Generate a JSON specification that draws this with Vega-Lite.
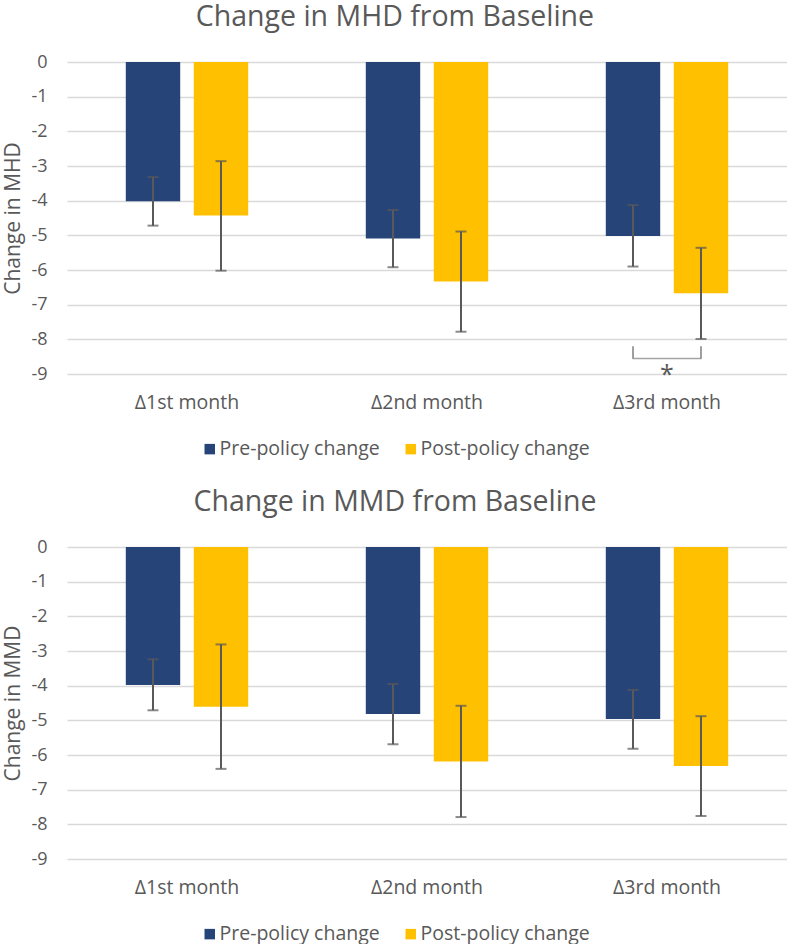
{
  "$schema": "https://vega.github.io/schema/vega-lite/v6.json",
  "padding": {"left": 2, "right": 0, "top": 3, "bottom": 0},
  "background": "white",
  "datasets": {
    "mhd": [
      {"month": "Δ1st month", "group": "Pre-policy change", "value": -4.02, "lo": -4.72, "hi": -3.32},
      {"month": "Δ1st month", "group": "Post-policy change", "value": -4.43, "lo": -6.02, "hi": -2.86},
      {"month": "Δ2nd month", "group": "Pre-policy change", "value": -5.09, "lo": -5.92, "hi": -4.27},
      {"month": "Δ2nd month", "group": "Post-policy change", "value": -6.33, "lo": -7.78, "hi": -4.89},
      {"month": "Δ3rd month", "group": "Pre-policy change", "value": -5.02, "lo": -5.9, "hi": -4.13},
      {"month": "Δ3rd month", "group": "Post-policy change", "value": -6.67, "lo": -7.99, "hi": -5.36}
    ],
    "mmd": [
      {"month": "Δ1st month", "group": "Pre-policy change", "value": -3.98, "lo": -4.71, "hi": -3.24},
      {"month": "Δ1st month", "group": "Post-policy change", "value": -4.61, "lo": -6.4, "hi": -2.81},
      {"month": "Δ2nd month", "group": "Pre-policy change", "value": -4.82, "lo": -5.69, "hi": -3.95},
      {"month": "Δ2nd month", "group": "Post-policy change", "value": -6.19, "lo": -7.79, "hi": -4.58},
      {"month": "Δ3rd month", "group": "Pre-policy change", "value": -4.96, "lo": -5.82, "hi": -4.12},
      {"month": "Δ3rd month", "group": "Post-policy change", "value": -6.32, "lo": -7.76, "hi": -4.88}
    ],
    "legs": [
      {"month": "Δ3rd month", "group": "Pre-policy change", "top": -8.2, "bottom": -8.55},
      {"month": "Δ3rd month", "group": "Post-policy change", "top": -8.2, "bottom": -8.55}
    ],
    "bar": [
      {"month": "Δ3rd month", "y": -8.55}
    ],
    "star": [
      {"month": "Δ3rd month", "y": -8.87, "label": "*"}
    ]
  },
  "spacing": 29,
  "resolve": {"legend": {"color": "independent"}},
  "vconcat": [
    {
      "width": 720,
      "height": 312,
      "title": {"text": "Change in MHD from Baseline"},
      "layer": [
        {
          "data": {"name": "mhd"},
          "mark": {"type": "bar"},
          "encoding": {
            "x": {"field": "month", "type": "nominal", "title": null,
                  "scale": {"paddingInner": 0.49, "paddingOuter": 0.245}},
            "xOffset": {"field": "group", "type": "nominal",
                        "scale": {"domain": ["Pre-policy change", "Post-policy change"], "paddingInner": 0.2}},
            "y": {"field": "value", "type": "quantitative", "title": "Change in MHD",
                  "scale": {"domain": [-9, 0], "nice": false},
                  "axis": {"values": [0, -1, -2, -3, -4, -5, -6, -7, -8, -9], "tickCount": 12, "labelExpr": "'' + datum.value"}},
            "color": {"field": "group", "type": "nominal", "title": null,
                      "scale": {"domain": ["Pre-policy change", "Post-policy change"], "range": ["#264478", "#FFC000"]},
                      "legend": {"orient": "none", "direction": "horizontal", "legendX": 133, "legendY": 377}}
          }
        },
        {
          "data": {"name": "mhd"},
          "mark": {"type": "rule", "color": "#595959", "strokeWidth": 2},
          "encoding": {
            "x": {"field": "month", "type": "nominal"},
            "xOffset": {"field": "group", "type": "nominal"},
            "y": {"field": "lo", "type": "quantitative"},
            "y2": {"field": "hi"}
          }
        },
        {
          "data": {"name": "mhd"},
          "mark": {"type": "tick", "color": "#595959", "thickness": 2, "size": 11},
          "encoding": {
            "x": {"field": "month", "type": "nominal"},
            "xOffset": {"field": "group", "type": "nominal"},
            "y": {"field": "lo", "type": "quantitative"}
          }
        },
        {
          "data": {"name": "mhd"},
          "mark": {"type": "tick", "color": "#595959", "thickness": 2, "size": 11},
          "encoding": {
            "x": {"field": "month", "type": "nominal"},
            "xOffset": {"field": "group", "type": "nominal"},
            "y": {"field": "hi", "type": "quantitative"}
          }
        },
        {
          "data": {"name": "legs"},
          "mark": {"type": "rule", "color": "#7f7f7f", "strokeWidth": 1.5},
          "encoding": {
            "x": {"field": "month", "type": "nominal"},
            "xOffset": {"field": "group", "type": "nominal"},
            "y": {"field": "top", "type": "quantitative"},
            "y2": {"field": "bottom"}
          }
        },
        {
          "data": {"name": "bar"},
          "mark": {"type": "tick", "color": "#7f7f7f", "thickness": 1.5, "size": 69},
          "encoding": {
            "x": {"field": "month", "type": "nominal"},
            "y": {"field": "y", "type": "quantitative"}
          }
        },
        {
          "data": {"name": "star"},
          "mark": {"type": "text", "color": "#595959", "fontSize": 25, "baseline": "middle", "dy": 6},
          "encoding": {
            "x": {"field": "month", "type": "nominal"},
            "y": {"field": "y", "type": "quantitative"},
            "text": {"field": "label"}
          }
        }
      ]
    },
    {
      "width": 720,
      "height": 312,
      "title": {"text": "Change in MMD from Baseline"},
      "layer": [
        {
          "data": {"name": "mmd"},
          "mark": {"type": "bar"},
          "encoding": {
            "x": {"field": "month", "type": "nominal", "title": null,
                  "scale": {"paddingInner": 0.49, "paddingOuter": 0.245}},
            "xOffset": {"field": "group", "type": "nominal",
                        "scale": {"domain": ["Pre-policy change", "Post-policy change"], "paddingInner": 0.2}},
            "y": {"field": "value", "type": "quantitative", "title": "Change in MMD",
                  "scale": {"domain": [-9, 0], "nice": false},
                  "axis": {"values": [0, -1, -2, -3, -4, -5, -6, -7, -8, -9], "tickCount": 12, "labelExpr": "'' + datum.value"}},
            "color": {"field": "group", "type": "nominal", "title": null,
                      "scale": {"domain": ["Pre-policy change", "Post-policy change"], "range": ["#264478", "#FFC000"]},
                      "legend": {"orient": "none", "direction": "horizontal", "legendX": 133, "legendY": 377}}
          }
        },
        {
          "data": {"name": "mmd"},
          "mark": {"type": "rule", "color": "#595959", "strokeWidth": 2},
          "encoding": {
            "x": {"field": "month", "type": "nominal"},
            "xOffset": {"field": "group", "type": "nominal"},
            "y": {"field": "lo", "type": "quantitative"},
            "y2": {"field": "hi"}
          }
        },
        {
          "data": {"name": "mmd"},
          "mark": {"type": "tick", "color": "#595959", "thickness": 2, "size": 11},
          "encoding": {
            "x": {"field": "month", "type": "nominal"},
            "xOffset": {"field": "group", "type": "nominal"},
            "y": {"field": "lo", "type": "quantitative"}
          }
        },
        {
          "data": {"name": "mmd"},
          "mark": {"type": "tick", "color": "#595959", "thickness": 2, "size": 11},
          "encoding": {
            "x": {"field": "month", "type": "nominal"},
            "xOffset": {"field": "group", "type": "nominal"},
            "y": {"field": "hi", "type": "quantitative"}
          }
        }
      ]
    }
  ],
  "config": {
    "font": "Open Sans",
    "view": {"stroke": null},
    "title": {"fontSize": 28.5, "fontWeight": "normal", "color": "#595959", "anchor": "middle", "frame": "bounds", "offset": 21.5},
    "axisX": {"labelAngle": 0, "labelFontSize": 19.5, "labelColor": "#595959", "domain": false, "ticks": false, "labelPadding": 19, "grid": false},
    "axisY": {"labelFontSize": 18, "labelColor": "#595959", "domain": false, "ticks": false, "labelPadding": 20, "labelOverlap": false,
              "grid": true, "gridColor": "#d9d9d9", "gridWidth": 1.5,
              "titleFontSize": 21, "titleFontWeight": "normal", "titleColor": "#595959", "titlePadding": 7},
    "legend": {"labelFontSize": 19.5, "labelColor": "#595959", "labelLimit": 300, "symbolType": "square", "symbolSize": 110,
               "symbolStrokeWidth": 0, "columnPadding": 21, "labelOffset": 0}
  }
}
